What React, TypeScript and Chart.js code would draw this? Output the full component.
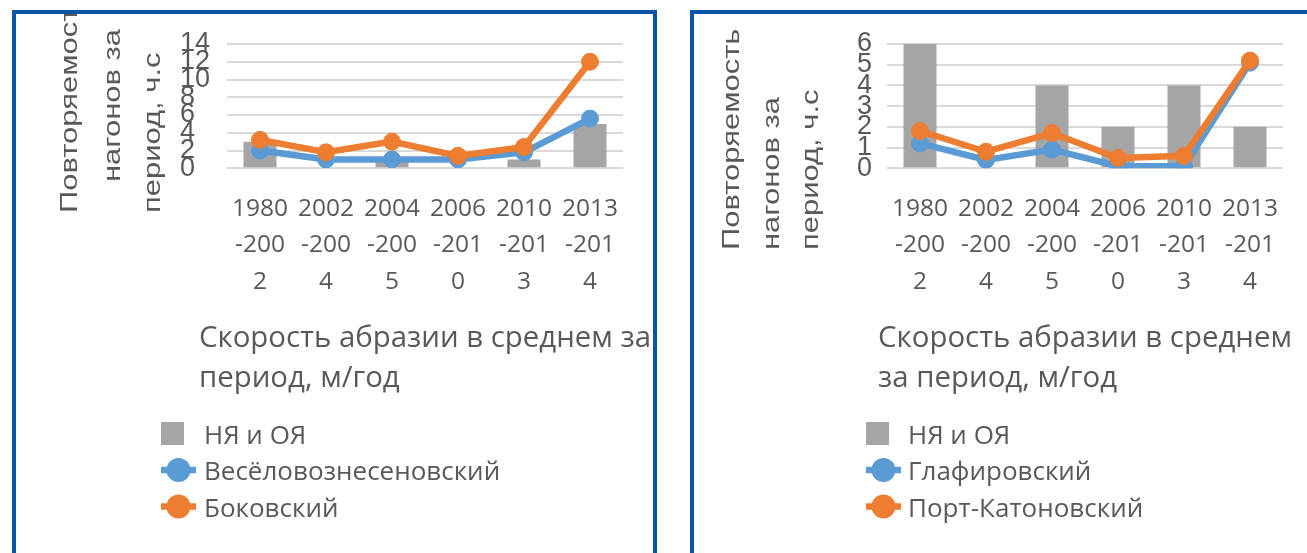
import React, { useEffect, useRef } from "react";
import { Chart, registerables } from "chart.js";

Chart.register(...registerables);

// ---------- data ----------
const categories: string[][] = [
  ["1980", "-200", "2"],
  ["2002", "-200", "4"],
  ["2004", "-200", "5"],
  ["2006", "-201", "0"],
  ["2010", "-201", "3"],
  ["2013", "-201", "4"],
];

const barLabel = "НЯ и ОЯ";

const leftBlueLabel = "Весёловознесеновский";
const leftOrangeLabel = "Боковский";
const leftBars = [3, 0, 1, 0, 1, 5];
const leftBlue = [2, 1, 1, 1, 1.8, 5.6];
const leftOrange = [3.2, 1.8, 3, 1.4, 2.4, 12];
const leftYTicks = [0, 2, 4, 6, 8, 10, 12, 14];

const rightBlueLabel = "Глафировский";
const rightOrangeLabel = "Порт-Катоновский";
const rightBars = [6, 0, 4, 2, 4, 2];
const rightBlue = [1.2, 0.4, 0.9, 0.1, 0.1, 5.1];
const rightOrange = [1.8, 0.8, 1.7, 0.5, 0.6, 5.2];
const rightYTicks = [0, 1, 2, 3, 4, 5, 6];

const yTitleLines = ["Повторяемость", "нагонов за", "период, ч.с"];
const leftXTitle = ["Скорость абразии в среднем за", "период, м/год"];
const rightXTitle = ["Скорость абразии в среднем", "за период, м/год"];

// ---------- styles ----------
const TEXT = "#595959";
const GRAY = "#A5A5A5";
const BLUE = "#5B9BD5";
const ORANGE = "#ED7D31";
const GRID = "#D9D9D9";
const FRAME = "#0A56A5";

type PanelCfg = {
  width: number;
  height: number;
  bars: number[];
  blue: number[];
  orange: number[];
  blueLabel: string;
  orangeLabel: string;
  yTicks: number[];
  padLeft: number;
  yWidth: number;
  padRight: number;
  yTitlePos: { cx: number; bottom: number }[];
  xTitle: string[];
  legendX: number;
  legendTextX: number;
};

const leftCfg: PanelCfg = {
  width: 637,
  height: 539,
  bars: leftBars,
  blue: leftBlue,
  orange: leftOrange,
  blueLabel: leftBlueLabel,
  orangeLabel: leftOrangeLabel,
  yTicks: leftYTicks,
  padLeft: 164,
  yWidth: 47,
  padRight: 30,
  yTitlePos: [
    { cx: 54, bottom: 199 },
    { cx: 97, bottom: 168 },
    { cx: 137, bottom: 199 },
  ],
  xTitle: leftXTitle,
  legendX: 145,
  legendTextX: 188,
};

const rightCfg: PanelCfg = {
  width: 613,
  height: 539,
  bars: rightBars,
  blue: rightBlue,
  orange: rightOrange,
  blueLabel: rightBlueLabel,
  orangeLabel: rightOrangeLabel,
  yTicks: rightYTicks,
  padLeft: 163,
  yWidth: 30,
  padRight: 24,
  yTitlePos: [
    { cx: 38, bottom: 236 },
    { cx: 78, bottom: 236 },
    { cx: 117, bottom: 236 },
  ],
  xTitle: rightXTitle,
  legendX: 172,
  legendTextX: 214,
};

function makeChart(canvas: HTMLCanvasElement, cfg: PanelCfg) {
  const textPlugin = {
    id: "panelText",
    afterDraw(chart: any) {
      const ctx: CanvasRenderingContext2D = chart.ctx;
      const area = chart.chartArea;
      ctx.save();
      ctx.fillStyle = TEXT;

      // y-axis title: rotated, stretched along its length
      ctx.font = '24px "Liberation Sans"';
      ctx.textBaseline = "middle";
      ctx.textAlign = "left";
      yTitleLines.forEach((t, i) => {
        const p = cfg.yTitlePos[i];
        ctx.save();
        ctx.translate(p.cx, p.bottom);
        ctx.rotate(-Math.PI / 2);
        ctx.scale(1.29, 1);
        ctx.fillText(t, 0, 0);
        ctx.restore();
      });

      // x-axis title: block centred on plot area, lines left-aligned
      ctx.font = '29.4px "Open Sans"';
      ctx.textBaseline = "alphabetic";
      const w0 = ctx.measureText(cfg.xTitle[0]).width;
      const x0 = (area.left + area.right) / 2 - w0 / 2;
      cfg.xTitle.forEach((t, i) => {
        ctx.fillText(t, x0, 333 + i * 40);
      });

      // legend
      const centers = [419.5, 456, 492.5];
      const ds = chart.data.datasets;
      ctx.font = '26px "Open Sans"';
      ds.forEach((d: any, i: number) => {
        const cy = centers[i];
        const lx = cfg.legendX;
        if (d.type === "bar") {
          ctx.fillStyle = d.backgroundColor;
          ctx.fillRect(lx, cy - 11.5, 23, 23);
        } else {
          ctx.strokeStyle = d.borderColor;
          ctx.lineWidth = 6.5;
          ctx.beginPath();
          ctx.moveTo(lx, cy);
          ctx.lineTo(lx + 35, cy);
          ctx.stroke();
          ctx.fillStyle = d.borderColor;
          ctx.beginPath();
          ctx.arc(lx + 17.5, cy, 12, 0, Math.PI * 2);
          ctx.fill();
        }
        ctx.fillStyle = TEXT;
        ctx.fillText(d.label, cfg.legendTextX, cy + 10);
      });
      ctx.restore();
    },
  };

  const lineDs = (label: string, data: number[], color: string, order: number) => ({
    type: "line" as const,
    label,
    data,
    borderColor: color,
    backgroundColor: color,
    borderWidth: 6.5,
    pointRadius: 8.5,
    pointBorderWidth: 1,
    pointBackgroundColor: color,
    pointBorderColor: color,
    tension: 0,
    order,
  });

  return new Chart(canvas, {
    type: "bar",
    data: {
      labels: categories,
      datasets: [
        {
          type: "bar",
          label: barLabel,
          data: cfg.bars,
          backgroundColor: GRAY,
          categoryPercentage: 1,
          barPercentage: 0.5,
          order: 3,
        },
        lineDs(cfg.blueLabel, cfg.blue, BLUE, 2),
        lineDs(cfg.orangeLabel, cfg.orange, ORANGE, 1),
      ] as any,
    },
    options: {
      responsive: false,
      animation: false,
      layout: {
        padding: { left: cfg.padLeft, right: cfg.padRight, top: 30, bottom: 234.7 },
      },
      plugins: {
        legend: { display: false },
        tooltip: { enabled: false },
      },
      scales: {
        x: {
          grid: { display: false },
          border: { display: false },
          ticks: {
            color: TEXT,
            autoSkip: false,
            maxRotation: 0,
            minRotation: 0,
            padding: 14,
            font: { family: '"Open Sans"', size: 24.5, lineHeight: 1.49 },
          },
          afterFit: (s: any) => {
            s.height = 150;
          },
        },
        y: {
          min: 0,
          max: cfg.yTicks[cfg.yTicks.length - 1],
          grid: { color: GRID, lineWidth: 2, drawTicks: false },
          border: { display: false },
          ticks: {
            color: TEXT,
            autoSkip: false,
            crossAlign: "far",
            padding: 0,
            font: { family: '"Liberation Sans"', size: 27 },
          },
          afterBuildTicks: (s: any) => {
            s.ticks = cfg.yTicks.map((v) => ({ value: v }));
          },
          afterFit: (s: any) => {
            s.width = cfg.yWidth;
          },
        },
      },
    } as any,
    plugins: [textPlugin],
  });
}

function Panel({ cfg, left }: { cfg: PanelCfg; left: number }) {
  const ref = useRef<HTMLCanvasElement | null>(null);
  useEffect(() => {
    if (!ref.current) return;
    const c = makeChart(ref.current, cfg);
    return () => c.destroy();
  }, [cfg]);
  return (
    <canvas
      ref={ref}
      width={cfg.width}
      height={cfg.height}
      style={{
        position: "absolute",
        left,
        top: 14,
        width: cfg.width,
        height: cfg.height,
        display: "block",
      }}
    />
  );
}

export default function App() {
  return (
    <div
      style={{
        position: "absolute",
        left: 0,
        top: 0,
        width: 1307,
        height: 553,
        overflow: "hidden",
        background: "#ffffff",
      }}
    >
      <Panel cfg={leftCfg} left={16} />
      <Panel cfg={rightCfg} left={694} />
      <div
        style={{
          position: "absolute",
          left: 12,
          top: 10,
          width: 645,
          height: 600,
          boxSizing: "border-box",
          border: `4px solid ${FRAME}`,
          borderBottom: "none",
          pointerEvents: "none",
        }}
      />
      <div
        style={{
          position: "absolute",
          left: 690,
          top: 10,
          width: 700,
          height: 600,
          boxSizing: "border-box",
          border: `4px solid ${FRAME}`,
          borderBottom: "none",
          pointerEvents: "none",
        }}
      />
    </div>
  );
}
